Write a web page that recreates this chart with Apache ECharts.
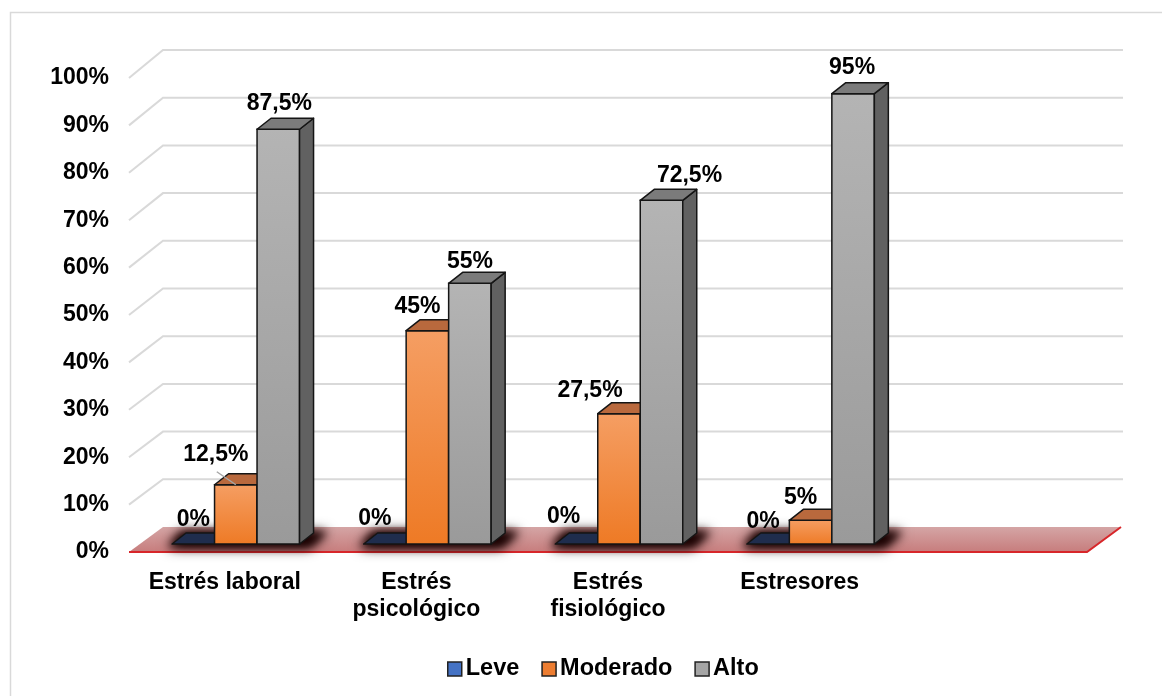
<!DOCTYPE html>
<html>
<head>
<meta charset="utf-8">
<script src="https://cdn.jsdelivr.net/npm/echarts@6/dist/echarts.min.js"></script>
<style>html,body{margin:0;padding:0;background:#fff;}#c{width:1162px;height:696px;}</style>
</head>
<body>
<div id="c"></div>
<script>
// ---- data ----
const categories = ['Estrés laboral', 'Estrés\npsicológico', 'Estrés\nfisiológico', 'Estresores'];
const seriesNames = ['Leve', 'Moderado', 'Alto'];
const leve = [0, 0, 0, 0];
const moderado = [12.5, 45, 27.5, 5];
const alto = [87.5, 55, 72.5, 95];
const yTicks = [0, 10, 20, 30, 40, 50, 60, 70, 80, 90, 100];

// ---- style config ----
const FONT = '"Liberation Sans", Arial, sans-serif';
const BW = 42.5;          // bar width
const GROUP_DX = 11;      // group shift (depth) in x
const BAR_DY = -8;        // bar front plane shift in y
const DX = 14, DY = -11;  // bar depth
const WALL_DX = 34;       // back wall offset
const labelDX = [[0, -10, -13, -5], [-20, -10, -29, -10], [1, 0, 28, -1]];
const labelDY = [[-24, -25, -27, -22], [-30, -24, -23, -23], [-26, -22, -25, -26]];
const leader = [[false, false, false, false], [true, false, false, false], [false, false, false, false]];
const faceStyles = [
  { front: ['#3a5c9e', '#2a4680'], top: '#1f2d4d', side: '#18233d', legend: '#4472c4' },
  { front: ['#f59e63', '#ee7a25'], top: '#b9693d', side: '#a85a2e', legend: '#ed7d31' },
  { front: ['#b4b4b4', '#9a9a9a'], top: '#7b7b7b', side: '#616161', legend: '#a5a5a5' }
];
const STROKE = '#151515';

function fmt(v) { return String(v).replace('.', ',') + '%'; }

function barRender(k) {
  return function (params, api) {
    const i = api.value(0), v = api.value(1);
    const base = api.coord([i, 0]);
    const top = api.coord([i, v]);
    const cx = base[0];
    const x0 = cx + GROUP_DX - 1.5 * BW + k * BW, x1 = x0 + BW;
    const yb = base[1] + BAR_DY, yt = top[1] + BAR_DY;
    const fs = faceStyles[k];
    const children = [];
    if (v > 0) {
      children.push({
        type: 'rect', shape: { x: x0, y: yt, width: BW, height: yb - yt },
        style: { fill: new echarts.graphic.LinearGradient(0, 0, 0, 1, [
          { offset: 0, color: fs.front[0] }, { offset: 1, color: fs.front[1] }]),
          stroke: STROKE, lineWidth: 1.5 }
      });
      children.push({
        type: 'polygon', shape: { points: [[x1, yt], [x1 + DX, yt + DY], [x1 + DX, yb + DY], [x1, yb]] },
        style: { fill: fs.side, stroke: STROKE, lineWidth: 1.5, lineJoin: 'round' }
      });
    }
    children.push({
      type: 'polygon', shape: { points: [[x0, yt], [x1, yt], [x1 + DX, yt + DY], [x0 + DX, yt + DY]] },
      style: { fill: fs.top, stroke: STROKE, lineWidth: 1.5, lineJoin: 'round' }
    });
    const lx = (x0 + x1) / 2 + labelDX[k][i];
    const ly = yt + labelDY[k][i];
    if (leader[k][i]) {
      children.push({
        type: 'line', shape: { x1: lx + 1, y1: ly + 17, x2: (x0 + x1) / 2, y2: yt },
        style: { stroke: '#a6a6a6', lineWidth: 1.5 }
      });
    }
    children.push({
      type: 'text',
      style: { text: fmt(v), x: lx, y: ly, fill: '#000', fontSize: 23, fontWeight: 'bold',
        fontFamily: FONT, align: 'center', verticalAlign: 'middle' }
    });
    return { type: 'group', children: children };
  };
}

const allValues = [leve, moderado, alto];
const chart = echarts.init(document.getElementById('c'), null, { renderer: 'canvas' });

const series = [
  { // back wall gridlines
    type: 'custom', name: 'grid', silent: true, clip: false,
    data: yTicks.slice(1).map(v => [0, v]),
    encode: { x: 0, y: 1 },
    renderItem: function (params, api) {
      const cs = params.coordSys;
      const v = api.value(1);
      const yf = api.coord([0, v])[1];
      const yb = yf - 25 - 3 * v / 100;
      return {
        type: 'polyline',
        shape: { points: [[cs.x, yf], [cs.x + WALL_DX, yb], [cs.x + cs.width + 36, yb]] },
        style: { stroke: '#d9d9d9', lineWidth: 2, fill: null }
      };
    }
  },
  { // floor
    type: 'custom', name: 'floor', silent: true, clip: false,
    data: [[0, 0]],
    encode: { x: 0, y: 1 },
    renderItem: function (params, api) {
      const cs = params.coordSys;
      const y0 = api.coord([0, 0])[1];
      const L = cs.x, R = cs.x + cs.width;
      const yBack = y0 - 25;
      return {
        type: 'group',
        children: [
          { type: 'polygon', shape: { points: [[L, y0], [R, y0], [R + WALL_DX, yBack], [L + WALL_DX, yBack]] },
            style: { fill: new echarts.graphic.LinearGradient(0, 0, 0, 1, [
              { offset: 0, color: 'rgba(210,160,160,0.95)' },
              { offset: 1, color: 'rgba(196,118,118,0.95)' }]), stroke: null } },
          { type: 'polyline', shape: { points: [[L, y0], [R, y0], [R + WALL_DX, yBack]] },
            style: { stroke: '#d8262a', lineWidth: 2, fill: null } }
        ]
      };
    }
  },
  { // bar shadows on the floor
    type: 'custom', name: 'shadow', silent: true, clip: false,
    data: categories.map((c, i) => [i, 0]),
    encode: { x: 0, y: 1 },
    renderItem: function (params, api) {
      const i = api.value(0);
      const base = api.coord([i, 0]);
      const xl = base[0] + GROUP_DX - 1.5 * BW - 4;
      const xr = base[0] + GROUP_DX + 1.5 * BW + 10;
      const yf = base[1] + BAR_DY + 3, yb = yf + DY - 4;
      const OFF = 3000;
      const pts = [[xl - OFF, yf], [xr - OFF, yf], [xr + DX + 4 - OFF, yb], [xl + DX - OFF, yb]];
      const st = { fill: '#000', shadowColor: 'rgba(25,0,0,1)', shadowBlur: 14, shadowOffsetX: OFF, shadowOffsetY: 0 };
      return {
        type: 'group',
        children: [
          { type: 'polygon', shape: { points: pts }, style: st },
          { type: 'polygon', shape: { points: pts }, style: Object.assign({}, st, { shadowBlur: 8 }) }
        ]
      };
    }
  }
];
seriesNames.forEach((name, k) => {
  series.push({
    type: 'custom', name: name, clip: false,
    itemStyle: { color: faceStyles[k].legend, borderColor: '#222', borderWidth: 1.5 },
    data: allValues[k].map((v, i) => [i, v]),
    encode: { x: 0, y: 1 },
    renderItem: barRender(k)
  });
});

chart.setOption({
  animation: false,
  backgroundColor: '#fff',
  graphic: [{
    type: 'rect', shape: { x: 10.5, y: 12.5, width: 1300, height: 900 },
    style: { fill: null, stroke: '#d9d9d9', lineWidth: 1.5 }, z: -10, silent: true
  }],
  grid: { left: 129, right: 75, top: 78, bottom: 144 },
  xAxis: {
    type: 'category',
    data: categories.concat(['']),
    axisLine: { show: false }, axisTick: { show: false }, splitLine: { show: false },
    axisLabel: { interval: 0, margin: 17, color: '#000', fontSize: 23, fontWeight: 'bold',
      fontFamily: FONT, lineHeight: 27 }
  },
  yAxis: {
    type: 'value', min: 0, max: 100, interval: 10,
    axisLine: { show: false }, axisTick: { show: false }, splitLine: { show: false },
    axisLabel: { margin: 20, color: '#000', fontSize: 23, fontWeight: 'bold', fontFamily: FONT,
      formatter: '{value}%' }
  },
  legend: {
    data: seriesNames, left: 442, top: 652, icon: 'rect', itemWidth: 14, itemHeight: 14, itemGap: 22,
    itemStyle: { borderColor: '#222', borderWidth: 1.5 },
    textStyle: { color: '#000', fontSize: 23.5, fontWeight: 'bold', fontFamily: FONT, padding: [0, 0, 0, -1] },
    selectedMode: false
  },
  series: series
});
</script>
</body>
</html>
